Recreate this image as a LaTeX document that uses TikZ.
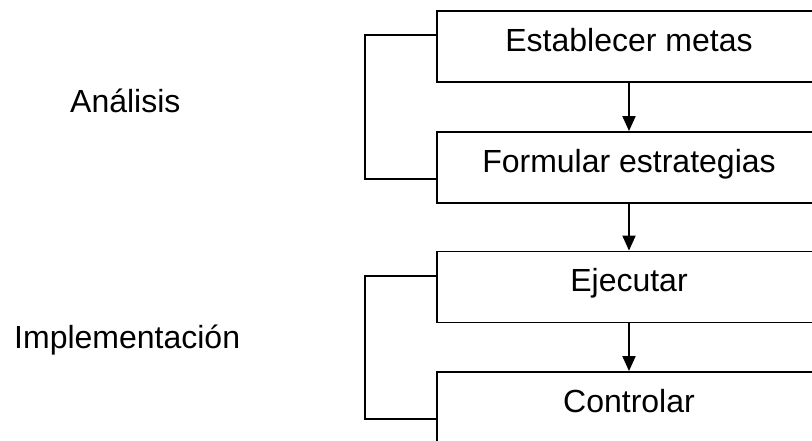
\documentclass[tikz,border=0pt]{standalone}
\usepackage{fontspec}
\setmainfont{Liberation Sans}
\usetikzlibrary{arrows.meta}
\begin{document}
\begin{tikzpicture}[x=1pt,y=-1pt,
  stepbox/.style={draw,line width=1.9pt,inner sep=0pt,minimum width=384pt,
    text height=40pt,text depth=31pt,align=center,
    font=\fontsize{32}{38}\selectfont},
  side/.style={anchor=base west,inner sep=0pt,font=\fontsize{32}{38}\selectfont},
  flow/.style={line width=1.9pt,-{Triangle[length=15pt,width=13pt]}},
  brace/.style={line width=1.9pt}]
\clip (0,0) rectangle (812,440);
\fill[white] (0,0) rectangle (812,440);
\node[stepbox] (b1) at (629,46.5) {Establecer metas};
\node[stepbox] (b2) at (629,167.5) {Formular estrategias};
\node[stepbox] (b3) at (629,287) {Ejecutar};
\node[stepbox] (b4) at (629,407.5) {Controlar};
\node[side] (l1) at (70,112) {Análisis};
\node[side] (l2) at (14,348) {Implementación};
\draw[flow] (b1) -- (b2);
\draw[flow] (b2) -- (b3);
\draw[flow] (b3) -- (b4);
\coordinate (k1) at (365,35);
\coordinate (k2) at (365,179);
\coordinate (k3) at (365,276);
\coordinate (k4) at (365,419);
\draw[brace] (k1 -| b1.west) -- (k1) -- (k2) -- (k2 -| b2.west);
\draw[brace] (k3 -| b3.west) -- (k3) -- (k4) -- (k4 -| b4.west);
\end{tikzpicture}
\end{document}
